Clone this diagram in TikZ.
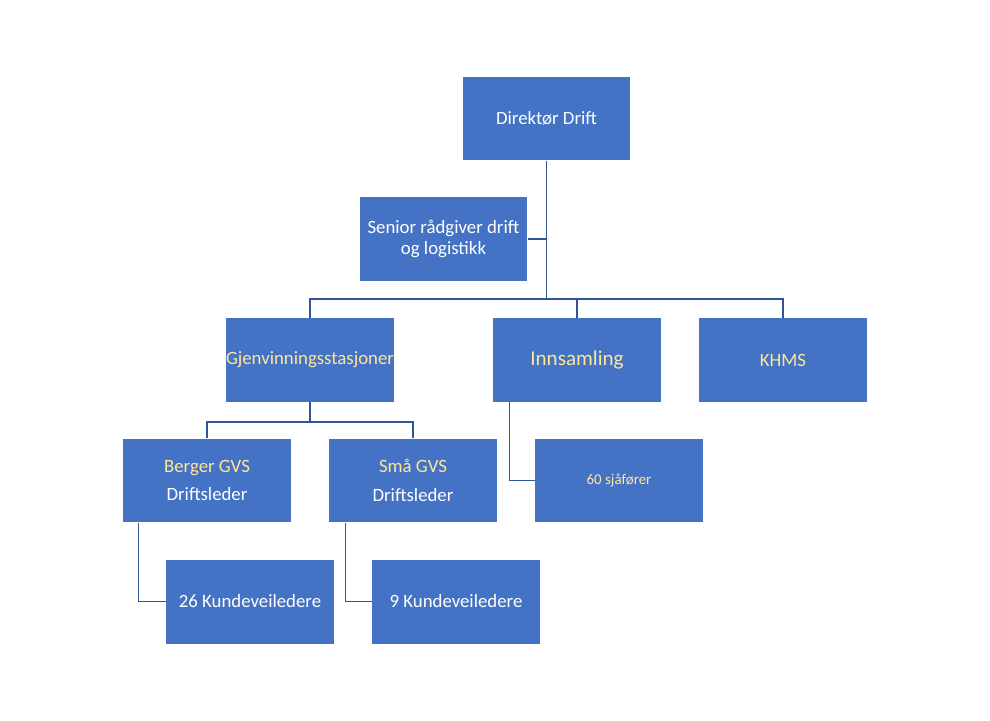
\documentclass[tikz,border=0pt]{standalone}
\usepackage{fontspec}
\setmainfont{Carlito}
\usepackage{tikz}
\usetikzlibrary{positioning}
\usetikzlibrary{calc}
\definecolor{boxblue}{RGB}{68,114,196}
\definecolor{linkblue}{RGB}{47,85,151}
\definecolor{lightgold}{RGB}{255,230,153}
\newcommand{\widthbox}{3.36cm}
\newcommand{\heightbox}{1.68cm}
\newcommand{\gold}[1]{{\color{lightgold}#1}}
\tikzset{
    box/.style={draw=none, rectangle, fill=boxblue, text=white, align=center, inner sep=0pt,
        minimum width=\widthbox, minimum height=\heightbox, font=\fontsize{10.7}{12}\selectfont},
    big/.style={box, font=\fontsize{12}{14}\selectfont},
    small/.style={box, font=\fontsize{8.5}{10}\selectfont},
    link/.style={draw=linkblue, line width=0.6pt},
}
\begin{document}
\begin{tikzpicture}[x=0.02cm, y=-0.02cm]
          \useasboundingbox (0,0) rectangle (990,720);

          \path
              node[box] (dir) at (546.5,118.5) {Direktør Drift}
              node[box] (senior) at (443.5,239) {Senior rådgiver drift\\og logistikk};

          \path
              node[box] (gvs) at (310,360) {\gold{Gjenvinningsstasjoner}}
              node[big] (inns) at (577,360) {\gold{Innsamling}}
              node[box] (khms) at (783,360) {\gold{KHMS}};

          \path
              node[box] (berger) at (207,480.5) {\gold{Berger GVS}\\[4.4pt]Driftsleder}
              node[box] (smaa) at (413,480.5) {\gold{Små GVS}\\[4.4pt]Driftsleder}
              node[small] (sjaf) at (619,480.5) {\gold{60 sjåfører}};

          \path
              node[box] (kunde26) at (250,601.5) {26 Kundeveiledere}
              node[box] (kunde9) at (456,601.5) {9 Kundeveiledere};

          \coordinate (split1) at (546.5,299);
          \coordinate (split2) at (310,422);

          \draw[link] (dir.south) -- (split1);
          \draw[link] (dir.south) |- (senior.east);
          \draw[link] (gvs.north) |- (split1) -| (khms.north);
          \draw[link] (inns.north) -- (inns.north |- split1);
          \draw[link] (gvs.south) -- (split2);
          \draw[link] (berger.north) |- (split2) -| (smaa.north);
          \draw[link] ($(inns.south west)+(17,0)$) |- (sjaf.west);
          \draw[link] ($(berger.south west)+(16,0)$) |- (kunde26.west);
          \draw[link] ($(smaa.south west)+(17,0)$) |- (kunde9.west);

      \end{tikzpicture}
\end{document}
